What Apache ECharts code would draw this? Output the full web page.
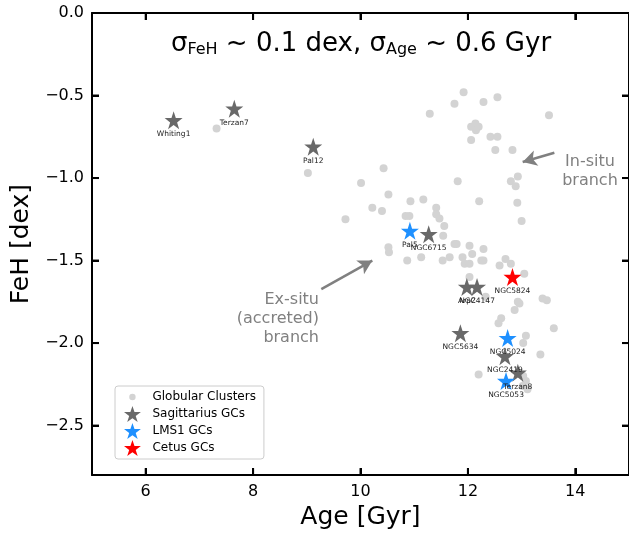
<!DOCTYPE html>
<html><head><meta charset="utf-8">
<script src="https://cdn.jsdelivr.net/npm/echarts@6/dist/echarts.min.js"></script>
<style>html,body{margin:0;padding:0;background:#fff}#c{width:629px;height:535px}</style>
</head><body><div id="c"></div>
<script>
// Globular clusters (grey dots)
const gcAge = [7.32,9.02,10.01,9.72,10.43,10.52,10.22,10.40,10.93,11.17,10.84,10.91,10.52,10.53,10.87,11.13,
  11.92,11.75,12.29,12.55,11.29,13.51,12.06,12.14,12.20,12.15,12.06,12.42,12.55,12.51,12.83,12.93,12.80,12.89,
  11.81,12.21,12.92,13.00,11.41,11.41,11.47,11.56,11.54,11.75,11.79,12.03,12.29,12.08,11.90,11.53,11.66,11.94,
  12.03,12.25,12.29,12.59,12.70,12.80,13.05,12.03,12.33,13.39,13.47,12.93,12.96,12.87,12.62,12.57,13.60,13.08,
  13.03,13.35,12.20,13.08,13.02,13.11,13.03];
const gcFeH = [-0.70,-0.97,-1.03,-1.25,-0.94,-1.10,-1.18,-1.20,-1.14,-1.13,-1.23,-1.23,-1.42,-1.45,-1.50,-1.48,
  -0.48,-0.55,-0.54,-0.51,-0.61,-0.62,-0.69,-0.67,-0.69,-0.71,-0.77,-0.75,-0.75,-0.83,-0.83,-0.99,-1.02,-1.05,
  -1.02,-1.14,-1.15,-1.26,-1.18,-1.22,-1.245,-1.29,-1.35,-1.40,-1.40,-1.41,-1.43,-1.46,-1.48,-1.50,-1.48,-1.52,
  -1.52,-1.50,-1.50,-1.53,-1.49,-1.52,-1.58,-1.60,-1.72,-1.73,-1.74,-1.75,-1.76,-1.80,-1.85,-1.88,-1.91,-1.955,
  -2.00,-2.07,-2.19,-2.23,-2.26,-2.28,-2.20];
// Sagittarius GCs
const sgrNames = ['Whiting1','Terzan7','Pal12','NGC6715','Arp2','NGC4147','NGC5634','NGC2419','Terzan8'];
const sgrAge = [6.52,7.65,9.12,11.27,11.98,12.17,11.86,12.69,12.93];
const sgrFeH = [-0.65,-0.58,-0.81,-1.34,-1.66,-1.66,-1.94,-2.08,-2.18];
// LMS1 GCs
const lmsNames = ['Pal5','NGC5024','NGC5053'];
const lmsAge = [10.92,12.74,12.71];
const lmsFeH = [-1.32,-1.97,-2.23];
// Cetus GCs
const cetNames = ['NGC5824'];
const cetAge = [12.83];
const cetFeH = [-1.60];
// tick values
const xTicks = [6,8,10,12,14];
const yTicks = [-0.5,-1,-1.5,-2,-2.5];
const xMin = 5, xMax = 15, yMin = -2.8, yMax = 0;

const STAR = 'path://M50,0 L61.8,35.1 L98.9,35.1 L68.9,57.3 L80.3,92.7 L50,70.8 L19.7,92.7 L31.1,57.3 L1.1,35.1 L38.2,35.1 Z';
const DOT_ICON = 'path://M30,50 A20,20 0 1,0 70,50 A20,20 0 1,0 30,50 Z M0,0 L0.1,0 L0,0.1 Z M100,100 L99.9,100 L100,99.9 Z';
const FONT = 'DejaVu Sans';

function pts(ax, ay, names){ return ax.map((a,i)=>names ? {name:names[i], value:[a, ay[i]]} : [a, ay[i]]); }
const starLabel = {show:true, position:'bottom', distance:1, formatter:p=>p.name, fontSize:7.5, color:'#222', fontFamily:FONT};
function axLine(){ return {show:true, onZero:false, lineStyle:{color:'#000', width:2}}; }
function tick(){ return {show:true, inside:true, length:7, lineStyle:{color:'#000', width:2}}; }
const fmtY = v => (Math.abs(v)<1e-9 ? '0.0' : v.toFixed(1).replace('-', '\u2212'));
// tick-mark series drawn through the axes (vertical marks on x axes, horizontal on y axes)
function tickSeries(data, size, offset){
  return {type:'scatter', symbol:'rect', symbolSize:size, symbolOffset:offset, clip:false, silent:true,
          itemStyle:{color:'#000', opacity:1}, data:data, z:20, legendHoverLink:false, tooltip:{show:false}};
}

const chart = echarts.init(document.getElementById('c'));
chart.setOption({
  animation:false,
  grid:{left:92, top:13, width:538, height:464},
  xAxis:[{
    type:'value', min:xMin, max:xMax, splitNumber:5,
    name:'Age [Gyr]', nameLocation:'middle', nameGap:27,
    nameTextStyle:{fontSize:25, fontFamily:FONT, color:'#000'},
    axisLine:axLine(), splitLine:{show:false}, axisTick:tick(),
    axisLabel:{show:true, fontSize:16, fontFamily:FONT, color:'#000', margin:9, showMinLabel:false, showMaxLabel:false}
  },{
    type:'value', min:xMin, max:xMax, splitNumber:5, position:'top',
    axisLine:axLine(), splitLine:{show:false}, axisTick:tick(),
    axisLabel:{show:false}
  }],
  yAxis:[{
    type:'value', min:yMin, max:yMax,
    name:'FeH [dex]', nameLocation:'middle', nameGap:52, nameRotate:90,
    nameTextStyle:{fontSize:25, fontFamily:FONT, color:'#000'},
    axisLine:axLine(), splitLine:{show:false}, axisTick:tick(),
    axisLabel:{show:true, fontSize:16, fontFamily:FONT, color:'#000', margin:8, formatter:fmtY, showMinLabel:false}
  },{
    type:'value', min:yMin, max:yMax, position:'right',
    axisLine:axLine(), splitLine:{show:false}, axisTick:tick(),
    axisLabel:{show:false}
  }],
  legend:{
    left:115, top:386, orient:'vertical',
    itemWidth:18, itemHeight:16, itemGap:1,
    padding:[3,8,3,9],
    borderColor:'#cccccc', borderWidth:1, borderRadius:3, backgroundColor:'rgba(255,255,255,0.8)',
    textStyle:{fontSize:12, fontFamily:FONT, color:'#000', padding:[0,0,0,6]},
    data:[
      {name:'Globular Clusters', icon:DOT_ICON},
      {name:'Sagittarius GCs', icon:STAR},
      {name:'LMS1 GCs', icon:STAR},
      {name:'Cetus GCs', icon:STAR}
    ]
  },
  series:[
    {name:'Globular Clusters', type:'scatter', symbol:'circle', symbolSize:8,
     itemStyle:{color:'#d3d3d3', opacity:1}, data:pts(gcAge, gcFeH),
     markLine:{silent:true, symbol:['none','arrow'], symbolSize:[12,14],
       lineStyle:{color:'#808080', width:2.5, type:'solid'}, label:{show:false},
       data:[
         [{coord:[9.27,-1.673]},{coord:[10.22,-1.50]}],
         [{coord:[13.61,-0.847]},{coord:[13.02,-0.903]}]
       ]}},
    {name:'Sagittarius GCs', type:'scatter', symbol:STAR, symbolSize:18,
     itemStyle:{color:'#696969', opacity:1}, label:starLabel, data:pts(sgrAge, sgrFeH, sgrNames)},
    {name:'LMS1 GCs', type:'scatter', symbol:STAR, symbolSize:18,
     itemStyle:{color:'#1e90ff', opacity:1}, label:starLabel, data:pts(lmsAge, lmsFeH, lmsNames)},
    {name:'Cetus GCs', type:'scatter', symbol:STAR, symbolSize:18,
     itemStyle:{color:'#ff0000', opacity:1}, label:starLabel, data:pts(cetAge, cetFeH, cetNames)},
    tickSeries(xTicks.map(v=>[v, yMin]), [2,7], [0,-3.5]),
    tickSeries(xTicks.map(v=>[v, yMax]), [2,7], [0,3.5]),
    tickSeries(yTicks.map(v=>[xMin, v]), [7,2], [3.5,0]),
    tickSeries(yTicks.map(v=>[xMax, v]), [7,2], [-3.5,0])
  ],
  graphic:[
    {type:'text', x:361, y:30,
     style:{text:'σ{sub|FeH} ~ 0.1 dex, σ{sub|Age} ~ 0.6 Gyr', fontSize:26, fontFamily:FONT, fill:'#000', align:'center',
       rich:{sub:{fontSize:16, fontFamily:FONT, fill:'#000', padding:[12,0,0,0]}}}},
    {type:'text', x:590, y:152,
     style:{text:'In-situ\nbranch', fontSize:16, lineHeight:19, fontFamily:FONT, fill:'#808080', align:'center'}},
    {type:'text', x:319, y:290,
     style:{text:'Ex-situ\n(accreted)\nbranch', fontSize:16, lineHeight:19, fontFamily:FONT, fill:'#808080', align:'right'}}
  ]
});
</script></body></html>
